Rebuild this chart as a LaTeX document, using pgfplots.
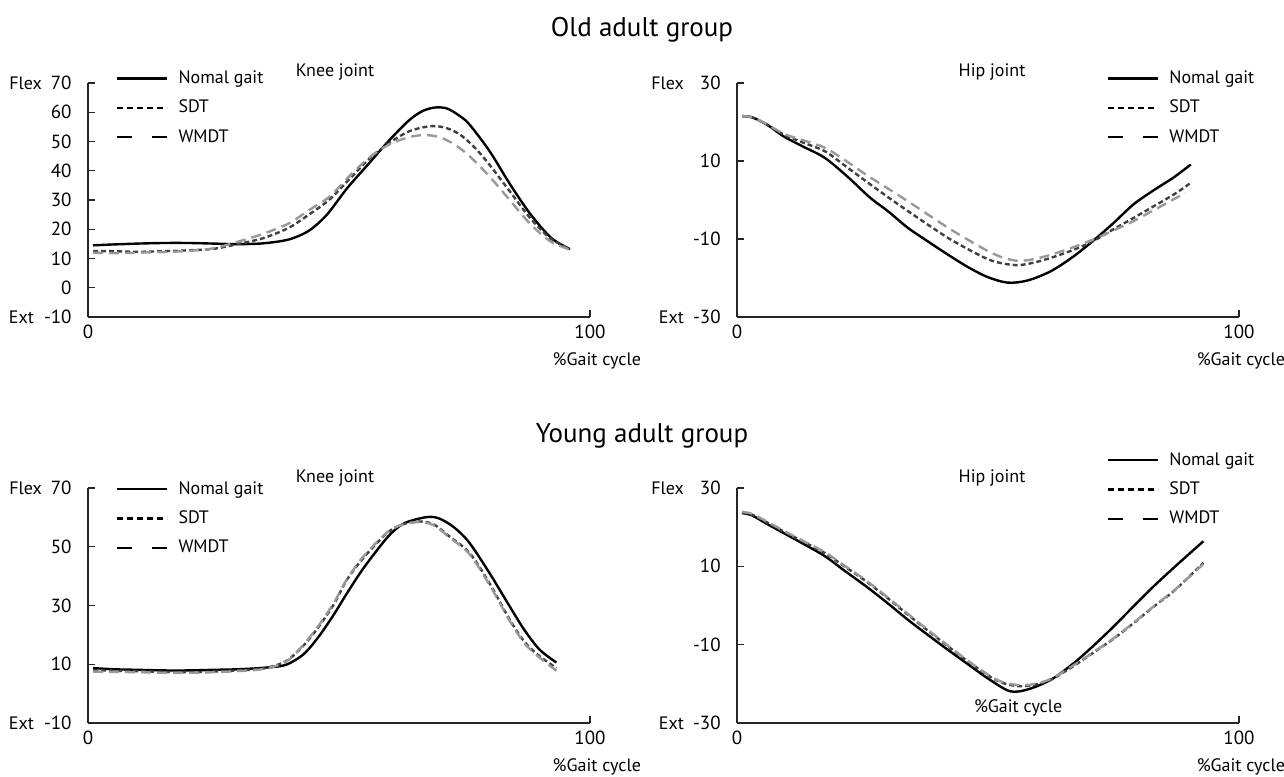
\documentclass[border=0pt]{standalone}
\usepackage{fontspec}
\setmainfont{PT Sans}
\usepackage{pgfplots}
\pgfplotsset{compat=1.18}

\pgfplotsset{
  gait/.style={
    scale only axis, width=251pt,
    xmin=0, xmax=100, xtick={0,100},
    axis x line=bottom, axis y line=left,
    axis line style={-, line width=0.7pt, black!85},
    tick align=inside, major tick length=3.5pt,
    tick style={line width=0.7pt, black!85},
    tick label style={font=\fontsize{9.5}{11}\selectfont},
    yticklabel style={inner sep=0pt, xshift=-8pt},
    xticklabel style={inner sep=0pt, yshift=-4pt},
    /pgf/number format/assume math mode=true,
    clip=false,
    legend cell align=left,
    legend image code/.code={\draw[#1] (0pt,0pt) -- (25pt,0pt);},
    legend style={draw=none, fill=none, inner sep=0pt, outer sep=0pt,
      row sep=5.7pt, column sep=5pt, anchor=north west,
      nodes={inner sep=0pt, text height=7pt, text depth=2pt,
        font=\fontsize{9}{10}\selectfont}},
  },
  normal/.style={black, line width=1.2pt, smooth},
  sdt/.style={black!75, line width=1.2pt, smooth, dash pattern=on 2.5pt off 1.5pt},
  wmdt/.style={black!40, line width=1.2pt, smooth, dash pattern=on 5pt off 3pt},
}
\newcommand{\lgd}{%
  \addlegendimage{black, line width=1.2pt}
  \addlegendimage{black, line width=1.2pt, dash pattern=on 3pt off 2pt}
  \addlegendimage{black, line width=1.2pt, dash pattern=on 7.5pt off 10pt}
  \legend{Nomal gait, SDT, WMDT}}
\newcommand{\lab}{\fontsize{9}{10}\selectfont}

\begin{document}
\begin{tikzpicture}
\path[use as bounding box] (0,0) rectangle (642pt,388pt);
\node[font=\fontsize{13.5}{16}\selectfont] at (321pt,373pt) {Old adult group};
\node[font=\fontsize{13.5}{16}\selectfont] at (321pt,170pt) {Young adult group};

% Old adult, knee
\begin{axis}[gait, at={(44pt,229.5pt)}, anchor=south west, height=117pt,
  ymin=-10, ymax=70, ytick={-10,0,...,70},
  legend style={at={(axis description cs:0.056,1.058)}}]
\addplot[normal, forget plot] coordinates {(1,14.5)(5,14.8)(10,15.1)(15,15.3)(20,15.3)(25,15.1)(30,14.9)(35,15.2)(40,16.5)(44,19.5)(47.6,25)(51.6,34)(55.7,42)(59.8,50)(63.8,57)(66.5,60.3)(69,61.6)(71.5,61.3)(74,58.8)(76,55.8)(80,46.7)(84.1,35.3)(88.2,25)(92.3,17)(96,13.2)};
\addplot[sdt, forget plot] coordinates {(1,12.5)(5,12.5)(10,12.3)(15,12.5)(20,12.8)(25,13.3)(30,15)(35,17)(40,20.5)(44,25)(48,30)(52,37)(56,44)(60,49.5)(64,53.5)(68,55.2)(71,54.8)(74,52.5)(77,48)(80,42)(84,33)(88,24)(92,17)(96,13.2)};
\addplot[wmdt, forget plot] coordinates {(1,12)(5,11.8)(10,12)(15,12.2)(20,12.6)(25,13.5)(30,15.8)(35,18.5)(40,22)(44,26.5)(48,31)(52,38)(56,44.5)(60,49)(64,51.5)(67,52.2)(70,51.5)(73,49)(76,45)(80,38)(84,30)(88,22)(92,16)(96,13)};
\lgd
\node[font=\lab] at (axis description cs:0.492,1.047) {Knee joint};
\node[font=\lab, anchor=east] at ([xshift=-19.5pt]rel axis cs:0,1) {Flex};
\node[font=\lab, anchor=east] at ([xshift=-23.5pt]rel axis cs:0,0) {Ext};
\node[font=\lab, anchor=east] at ([xshift=29pt,yshift=-22pt]rel axis cs:1,0) {\%Gait cycle};
\end{axis}

% Old adult, hip
\begin{axis}[gait, at={(368.5pt,229.5pt)}, anchor=south west, height=117pt,
  ymin=-30, ymax=30, ytick={-30,-10,10,30},
  legend style={at={(axis description cs:0.737,1.058)}}]
\addplot[normal, forget plot] coordinates {(1,21.5)(3,21.2)(6,19.3)(9.3,16.3)(13,13.8)(17.5,10.8)(22,6)(26.5,0.6)(30,-2.8)(34,-7.1)(38,-10.6)(42,-14)(46,-17.2)(50,-19.8)(54,-21.2)(58,-20.6)(62.6,-18.2)(67,-14.5)(71,-10.4)(75,-5.9)(79,-1.1)(83,2.5)(87,5.8)(90.4,9.1)};
\addplot[sdt, forget plot] coordinates {(1,21.5)(3,21.2)(6,19.3)(9.3,16.8)(13,14.8)(17.5,12.5)(21.5,8.8)(25.7,4.8)(30,0.8)(34,-2.8)(38,-6.3)(42,-9.7)(46,-12.6)(50,-15.2)(53,-16.3)(56,-16.7)(59,-16.1)(62.6,-14.8)(67,-12.8)(71,-10.5)(75,-7.5)(79,-4.6)(83,-1.6)(87,1.4)(90.4,4.4)};
\addplot[wmdt, forget plot] coordinates {(1,21.5)(3,21.2)(6,19.4)(9.3,17)(13,15.4)(17.5,13.4)(21.5,10.2)(25.7,6.5)(30,3)(34,-0.3)(38,-3.7)(42,-7.1)(46,-10.2)(50,-13.1)(53,-14.8)(56,-15.6)(59,-15.2)(62.6,-14)(67,-12.1)(71,-10.1)(75,-7.8)(79,-5.4)(83,-2.6)(89.3,1.8)};
\lgd
\node[font=\lab] at (axis description cs:0.508,1.047) {Hip joint};
\node[font=\lab, anchor=east] at ([xshift=-23pt]rel axis cs:0,1) {Flex};
\node[font=\lab, anchor=east] at ([xshift=-23pt]rel axis cs:0,0) {Ext};
\node[font=\lab, anchor=east] at ([xshift=26.5pt,yshift=-22pt]rel axis cs:1,0) {\%Gait cycle};
\end{axis}

% Young adult, knee
\begin{axis}[gait, at={(44pt,26.5pt)}, anchor=south west, height=117.5pt,
  ymin=-10, ymax=70, ytick={-10,10,...,70},
  legend style={at={(axis description cs:0.056,1.034)}}]
\addplot[normal, forget plot] coordinates {(1,8.7)(5,8.3)(10,8.1)(15,7.9)(20,7.9)(25,8.1)(30,8.3)(35,8.8)(39.4,9.8)(43,13.5)(46,19.5)(49,27)(51.6,34.2)(55,43)(59.8,53.5)(63,58)(67.5,60.1)(70,59.6)(73,56.5)(76,51.3)(80,41)(84,29.7)(87,21.5)(90,14.9)(93.3,10.6)};
\addplot[sdt, forget plot] coordinates {(1,8)(5,7.8)(10,7.6)(15,7.4)(20,7.3)(25,7.5)(30,7.9)(35,8.6)(39.4,11)(43,16.5)(46,22.9)(49,30.5)(51.6,38.8)(55,46.5)(59.8,55)(63,57.8)(66.3,58.6)(69,57.5)(72,53.5)(76,47.9)(80,37.5)(84,25.2)(87,17.5)(90,12.7)(93.3,8.7)};
\addplot[wmdt, forget plot] coordinates {(1,7.5)(5,7.4)(10,7.3)(15,7.1)(20,7.1)(25,7.3)(30,7.7)(35,8.4)(39.4,10.8)(43,16.8)(46,23.3)(49,31)(51.6,39)(55,47)(59.8,55.2)(63,57.7)(66.3,58.4)(69,57.2)(72,53.2)(76,47.5)(80,37)(84,24.8)(87,17)(90,12.2)(93.3,7.8)};
\lgd
\node[font=\lab] at (axis description cs:0.492,1.043) {Knee joint};
\node[font=\lab, anchor=east] at ([xshift=-19.5pt]rel axis cs:0,1) {Flex};
\node[font=\lab, anchor=east] at ([xshift=-23.5pt]rel axis cs:0,0) {Ext};
\node[font=\lab, anchor=east] at ([xshift=29pt,yshift=-22pt]rel axis cs:1,0) {\%Gait cycle};
\end{axis}

% Young adult, hip
\begin{axis}[gait, at={(368.5pt,26.5pt)}, anchor=south west, height=117.5pt,
  ymin=-30, ymax=30, ytick={-30,-10,10,30},
  legend style={at={(axis description cs:0.737,1.157)}}]
\addplot[normal, forget plot] coordinates {(1,23.6)(3,23)(6,20.8)(9.3,18.5)(13,15.9)(17.5,12.6)(21.5,8.8)(25.7,4.9)(30,0.6)(34,-3.6)(38,-7.5)(42,-11.3)(46,-15)(50.3,-18.9)(54.4,-21.9)(58,-21.4)(62.6,-18.9)(67,-14.8)(70.9,-10.4)(75,-5.4)(79,-0.2)(83,4.9)(87.3,10)(92.9,16.4)};
\addplot[sdt, forget plot] coordinates {(1,23.8)(3,23.2)(6,21.2)(9.3,18.9)(13,16.4)(17.5,13.4)(21.5,9.9)(25.7,6.2)(30,1.9)(34,-2.3)(38,-6.4)(42,-10.4)(46,-14.3)(50.3,-18.1)(53,-19.8)(56,-20.6)(59,-20.3)(62.6,-18.9)(67,-15.5)(70.9,-12.1)(75,-8.5)(79,-4.5)(83,-0.3)(87.3,4)(92.9,10.9)};
\addplot[wmdt, forget plot] coordinates {(1,23.9)(3,23.4)(6,21.4)(9.3,19.1)(13,16.6)(17.5,13.6)(21.5,10.1)(25.7,6.4)(30,2.1)(34,-2.1)(38,-6.2)(42,-10.2)(46,-14.1)(50.3,-17.9)(53,-19.6)(56,-20.3)(59,-20.1)(62.6,-18.7)(67,-15.3)(70.9,-12)(75,-8.4)(79,-4.4)(83,-0.2)(87.3,4.1)(92.9,10.6)};
\lgd
\node[font=\lab] at (axis description cs:0.508,1.043) {Hip joint};
\node[font=\lab, anchor=east] at ([xshift=-23pt]rel axis cs:0,1) {Flex};
\node[font=\lab, anchor=east] at ([xshift=-23pt]rel axis cs:0,0) {Ext};
\node[font=\lab] at (axis description cs:0.56,0.064) {\%Gait cycle};
\node[font=\lab, anchor=east] at ([xshift=26.5pt,yshift=-22pt]rel axis cs:1,0) {\%Gait cycle};
\end{axis}
\end{tikzpicture}
\end{document}
